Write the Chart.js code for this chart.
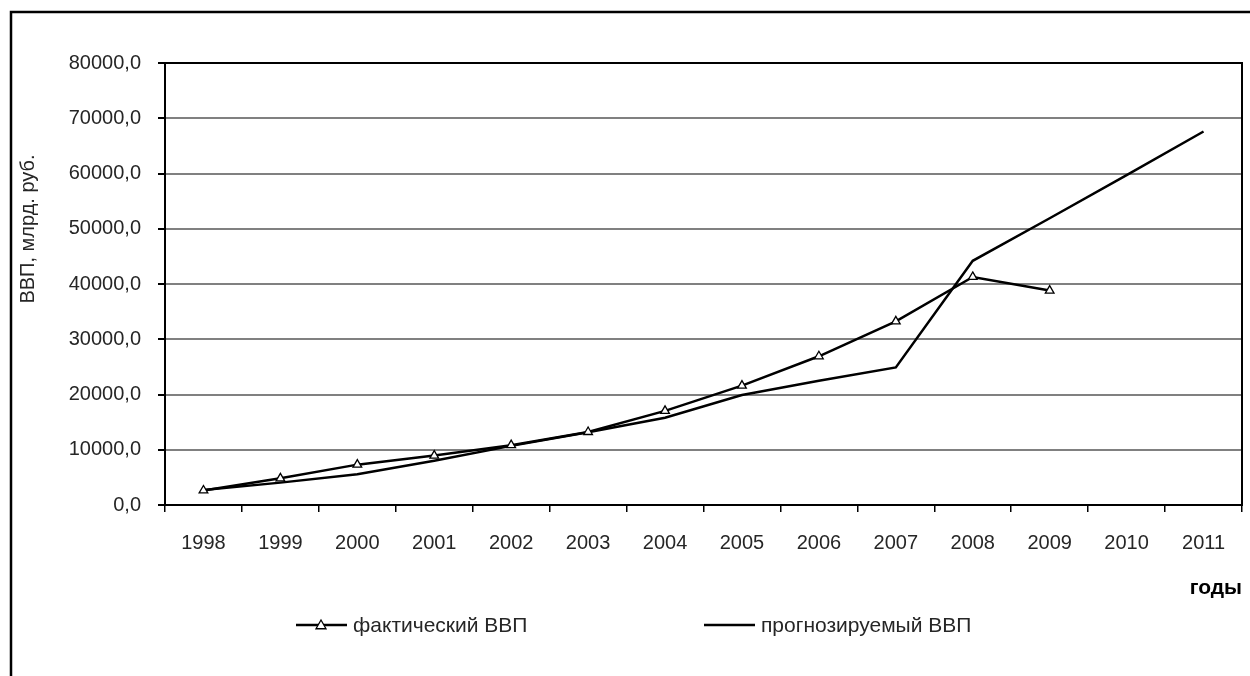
<!DOCTYPE html>
<html>
<head>
<meta charset="utf-8">
<script src="https://cdn.jsdelivr.net/npm/chart.js@4.4.0/dist/chart.umd.min.js"></script>
<style>
  html, body { margin: 0; padding: 0; background: #ffffff; }
  #wrap { width: 1250px; height: 676px; }
</style>
</head>
<body>
<div id="wrap"><canvas id="c" width="1250" height="676"></canvas></div>
<script>
// Годы и значения ВВП (млрд. руб.)
const years = ['1998', '1999', '2000', '2001', '2002', '2003', '2004', '2005', '2006', '2007', '2008', '2009', '2010', '2011'];
const actualGdp = [2629.6, 4823.2, 7305.6, 8943.6, 10830.5, 13208.2, 17027.2, 21609.8, 26917.2, 33247.5, 41276.8, 38807.2, null, null];
const forecastGdp = [2700, 4050, 5550, 8000, 10700, 13150, 15800, 19900, 22500, 24900, 44200, 51900, 59700, 67600];

const seriesNames = ['фактический ВВП', 'прогнозируемый ВВП'];
const yAxisTitle = 'ВВП, млрд. руб.';
const xAxisTitle = 'годы';
const yMin = 0;
const yMax = 80000;
const yStep = 10000;

const FONT = 'Liberation Sans, Arial, sans-serif';
const TEXT = '#262626';

// Белый фон и рамка области диаграммы
const framePlugin = {
  id: 'frame',
  beforeDraw(chart) {
    const ctx = chart.ctx;
    ctx.save();
    ctx.fillStyle = '#ffffff';
    ctx.fillRect(0, 0, chart.width, chart.height);
    ctx.strokeStyle = '#000';
    ctx.lineWidth = 2.5;
    ctx.beginPath();
    ctx.moveTo(11, chart.height);
    ctx.lineTo(11, 12);
    ctx.lineTo(chart.width, 12);
    ctx.stroke();
    ctx.restore();
  }
};

// Чёрная рамка области построения
const plotBorderPlugin = {
  id: 'plotBorder',
  beforeDatasetsDraw(chart) {
    const { ctx, chartArea: a } = chart;
    ctx.save();
    ctx.strokeStyle = '#000';
    ctx.lineWidth = 2;
    ctx.strokeRect(a.left, a.top, a.right - a.left, a.bottom - a.top);
    ctx.restore();
  }
};

// Подпись вертикальной оси
const yTitlePlugin = {
  id: 'yTitle',
  afterDraw(chart) {
    const ctx = chart.ctx;
    ctx.save();
    ctx.translate(28, 229);
    ctx.rotate(-Math.PI / 2);
    ctx.font = '20px ' + FONT;
    ctx.fillStyle = TEXT;
    ctx.textAlign = 'center';
    ctx.textBaseline = 'middle';
    ctx.fillText(yAxisTitle, 0, 0);
    ctx.restore();
  }
};

// Легенда под диаграммой: отрезок линии с маркером и название ряда
const legendPlugin = {
  id: 'bottomLegend',
  afterDraw(chart) {
    const ctx = chart.ctx;
    const starts = [296, 704];
    const y = 625;
    ctx.save();
    chart.data.datasets.forEach((ds, i) => {
      const x0 = starts[i];
      ctx.strokeStyle = ds.borderColor;
      ctx.lineWidth = ds.borderWidth;
      ctx.beginPath();
      ctx.moveTo(x0, y);
      ctx.lineTo(x0 + 51, y);
      ctx.stroke();
      if (ds.pointRadius > 0) {
        const cx = x0 + 25, r = ds.pointRadius;
        ctx.fillStyle = ds.pointBackgroundColor;
        ctx.strokeStyle = ds.pointBorderColor;
        ctx.lineWidth = ds.pointBorderWidth;
        ctx.beginPath();
        ctx.moveTo(cx, y - r);
        ctx.lineTo(cx + r, y + r * 0.75);
        ctx.lineTo(cx - r, y + r * 0.75);
        ctx.closePath();
        ctx.fill();
        ctx.stroke();
      }
      ctx.font = '21px ' + FONT;
      ctx.fillStyle = TEXT;
      ctx.textAlign = 'left';
      ctx.textBaseline = 'middle';
      ctx.fillText(ds.label, x0 + 57, y + 1);
    });
    ctx.restore();
  }
};

new Chart(document.getElementById('c'), {
  type: 'line',
  data: {
    labels: years,
    datasets: [
      {
        label: seriesNames[0],
        data: actualGdp,
        borderColor: '#000',
        borderWidth: 2.5,
        pointStyle: 'triangle',
        pointRadius: 5,
        pointBackgroundColor: '#fff',
        pointBorderColor: '#000',
        pointBorderWidth: 1.3,
        tension: 0,
        spanGaps: false
      },
      {
        label: seriesNames[1],
        data: forecastGdp,
        borderColor: '#000',
        borderWidth: 2.5,
        pointRadius: 0,
        tension: 0
      }
    ]
  },
  options: {
    responsive: false,
    devicePixelRatio: 1,
    animation: false,
    layout: { padding: { left: 0, top: 63, right: 8, bottom: 0 } },
    plugins: {
      legend: { display: false },
      tooltip: { enabled: false }
    },
    scales: {
      x: {
        type: 'category',
        offset: true,
        grid: {
          offset: true,
          drawOnChartArea: false,
          drawTicks: true,
          tickLength: 7,
          color: '#000',
          lineWidth: 1.5
        },
        border: { display: true, color: '#000', width: 2 },
        ticks: {
          padding: 19,
          color: TEXT,
          font: { family: FONT, size: 20 },
          maxRotation: 0,
          autoSkip: false
        },
        title: {
          display: true,
          text: xAxisTitle,
          align: 'end',
          color: '#000',
          font: { family: FONT, size: 21, weight: 'bold' },
          padding: { top: 0, bottom: 75 }
        },
        afterFit(scale) { scale.height = 171; }
      },
      y: {
        min: yMin,
        max: yMax,
        ticks: {
          stepSize: yStep,
          padding: 17,
          color: TEXT,
          font: { family: FONT, size: 20 },
          callback: v => v.toFixed(1).replace('.', ',')
        },
        grid: {
          color: '#808080',
          lineWidth: 2,
          tickLength: 7,
          tickColor: '#000'
        },
        border: { display: true, color: '#000', width: 2 },
        afterFit(scale) { scale.width = 165; }
      }
    }
  },
  plugins: [framePlugin, plotBorderPlugin, yTitlePlugin, legendPlugin]
});
</script>
</body>
</html>
